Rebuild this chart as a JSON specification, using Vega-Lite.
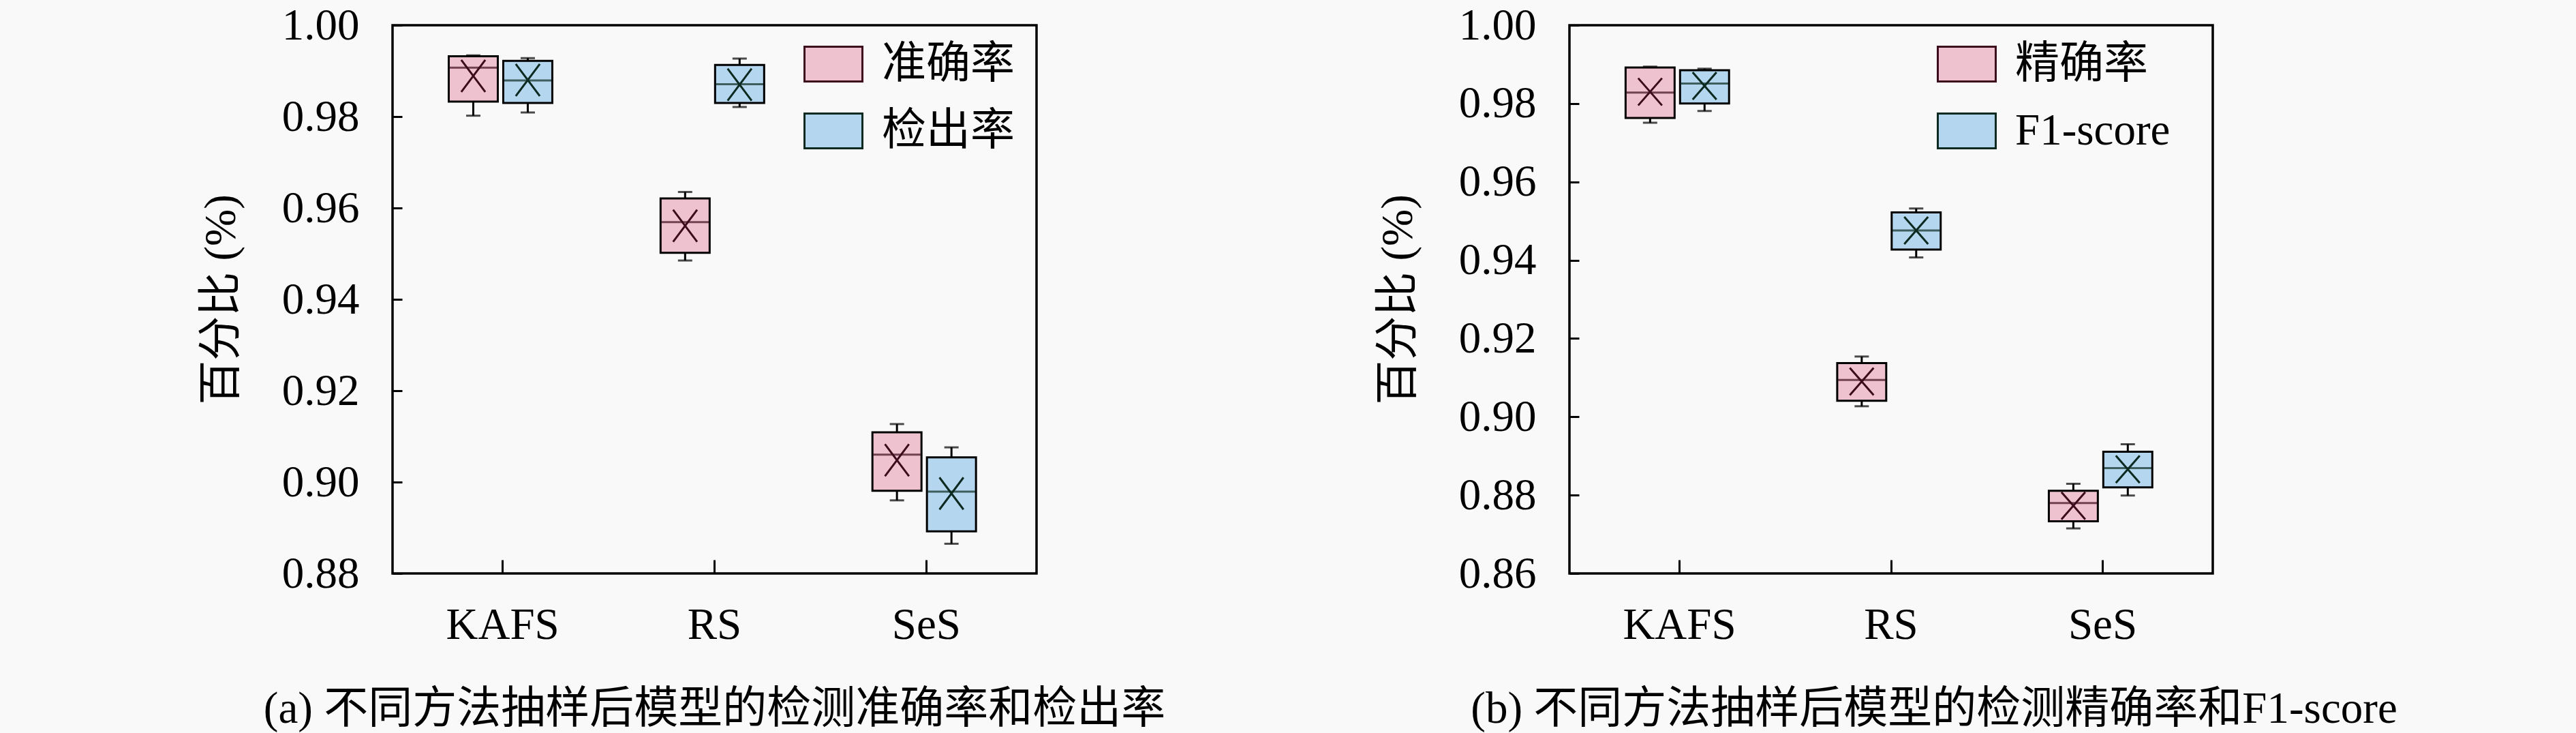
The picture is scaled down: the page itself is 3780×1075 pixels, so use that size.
{
  "$schema": "https://vega.github.io/schema/vega-lite/v6.json",
  "background": "#f9f9f9",
  "padding": {"left": 290, "top": 3, "right": 270, "bottom": 5},
  "bounds": "flush",
  "spacing": 782,
  "config": {
    "font": "Liberation Serif, Noto Sans CJK SC",
    "view": {"stroke": "black", "strokeWidth": 3.5, "fill": null},
    "axis": {"domain": false, "grid": false, "tickColor": "black", "tickWidth": 3, "labelColor": "black", "labelFontSize": 65, "titleFontSize": 65, "titleFontWeight": "normal", "titleColor": "black", "labelFlush": false, "labelOverlap": false, "labelBound": false},
    "axisY": {"tickSize": -14, "labelPadding": 63, "titlePadding": 55},
    "axisX": {"tickSize": -20, "labelPadding": 64, "labelAngle": 0, "labelBaseline": "top"},
    "legend": {"orient": "none", "title": null, "symbolType": "M-1,-0.6H1V0.6H-1Z", "symbolSize": 7225, "symbolStrokeColor": "black", "symbolStrokeWidth": 3, "symbolOpacity": 1, "labelFontSize": 65, "labelColor": "black", "labelOffset": 27, "labelLimit": 1000, "rowPadding": 21, "padding": 0},
    "title": {"fontSize": 65, "fontWeight": "normal", "orient": "bottom", "frame": "group", "anchor": "middle", "offset": 60, "color": "black", "baseline": "top"}
  },
  "resolve": {"scale": {"x": "independent", "y": "independent", "xOffset": "independent", "fill": "independent", "color": "independent"}, "legend": {"fill": "independent"}, "axis": {"x": "independent", "y": "independent"}},
  "hconcat": [
    {
      "width": 945,
      "height": 804,
      "title": {"text": "(a) 不同方法抽样后模型的检测准确率和检出率"},
      "data": {"values": [
        {"method": "KAFS", "metric": "准确率", "min": 0.9802, "q1": 0.9833, "median": 0.9907, "q3": 0.9932, "max": 0.9934, "mean": 0.9889},
        {"method": "KAFS", "metric": "检出率", "min": 0.9809, "q1": 0.9830, "median": 0.9879, "q3": 0.9922, "max": 0.9928, "mean": 0.9880},
        {"method": "RS", "metric": "准确率", "min": 0.9485, "q1": 0.9502, "median": 0.9569, "q3": 0.9621, "max": 0.9635, "mean": 0.9561},
        {"method": "RS", "metric": "检出率", "min": 0.9821, "q1": 0.9830, "median": 0.9871, "q3": 0.9913, "max": 0.9927, "mean": 0.9870},
        {"method": "SeS", "metric": "准确率", "min": 0.8960, "q1": 0.8981, "median": 0.9060, "q3": 0.9109, "max": 0.9127, "mean": 0.9048},
        {"method": "SeS", "metric": "检出率", "min": 0.8865, "q1": 0.8892, "median": 0.8979, "q3": 0.9054, "max": 0.9076, "mean": 0.8975}
      ]},
      "encoding": {
        "x": {"field": "method", "type": "nominal", "sort": ["KAFS", "RS", "SeS"], "scale": {"paddingInner": 0, "paddingOuter": 0.02}, "axis": {"title": null}},
        "xOffset": {"field": "metric", "type": "nominal", "sort": ["准确率", "检出率"], "scale": {"paddingInner": 0.1, "paddingOuter": 0.993, "align": 0.48}}
      },
      "layer": [
        {
          "mark": {"type": "rule", "color": "black", "strokeWidth": 3},
          "encoding": {
            "y": {"field": "min", "type": "quantitative", "scale": {"domain": [0.88, 1.0], "nice": false, "zero": false}, "axis": {"values": [0.88, 0.90, 0.92, 0.94, 0.96, 0.98, 1.00], "format": ".2f", "title": "百分比 (%)"}},
            "y2": {"field": "max"}
          }
        },
        {
          "mark": {"type": "bar", "stroke": "black", "strokeWidth": 3},
          "encoding": {
            "y": {"field": "q1", "type": "quantitative"},
            "y2": {"field": "q3"},
            "fill": {"field": "metric", "type": "nominal", "scale": {"domain": ["准确率", "检出率"], "range": ["#efc2cf", "#b5d6ef"]}, "legend": {"legendX": 603, "legendY": 13}}
          }
        },
        {
          "mark": {"type": "tick", "size": 70, "thickness": 3},
          "encoding": {
            "y": {"field": "median", "type": "quantitative"},
            "color": {"field": "metric", "type": "nominal", "scale": {"domain": ["准确率", "检出率"], "range": ["#3d0c1c", "#0c2a20"]}, "legend": null}
          }
        },
        {
          "mark": {"type": "tick", "size": 21, "thickness": 3, "color": "black"},
          "encoding": {"y": {"field": "min", "type": "quantitative"}}
        },
        {
          "mark": {"type": "tick", "size": 21, "thickness": 3, "color": "black"},
          "encoding": {"y": {"field": "max", "type": "quantitative"}}
        },
        {
          "mark": {"type": "point", "shape": "M-0.75,-1L0.75,1M0.75,-1L-0.75,1", "size": 2209, "filled": false, "strokeWidth": 3, "opacity": 1},
          "encoding": {
            "y": {"field": "mean", "type": "quantitative"},
            "color": {"field": "metric", "type": "nominal", "scale": {"domain": ["准确率", "检出率"], "range": ["#3d0c1c", "#0c2a20"]}, "legend": null}
          }
        }
      ]
    },
    {
      "width": 944,
      "height": 804,
      "title": {"text": "(b) 不同方法抽样后模型的检测精确率和F1-score", "dx": 63},
      "data": {"values": [
        {"method": "KAFS", "metric": "精确率", "min": 0.9751, "q1": 0.9763, "median": 0.9828, "q3": 0.9892, "max": 0.9894, "mean": 0.9830},
        {"method": "KAFS", "metric": "F1-score", "min": 0.9781, "q1": 0.9800, "median": 0.9851, "q3": 0.9885, "max": 0.9889, "mean": 0.9845},
        {"method": "RS", "metric": "精确率", "min": 0.9027, "q1": 0.9041, "median": 0.9094, "q3": 0.9137, "max": 0.9154, "mean": 0.9090},
        {"method": "RS", "metric": "F1-score", "min": 0.9407, "q1": 0.9427, "median": 0.9476, "q3": 0.9522, "max": 0.9532, "mean": 0.9476},
        {"method": "SeS", "metric": "精确率", "min": 0.8715, "q1": 0.8733, "median": 0.8780, "q3": 0.8811, "max": 0.8829, "mean": 0.8773},
        {"method": "SeS", "metric": "F1-score", "min": 0.8799, "q1": 0.8820, "median": 0.8869, "q3": 0.8911, "max": 0.8930, "mean": 0.8866}
      ]},
      "encoding": {
        "x": {"field": "method", "type": "nominal", "sort": ["KAFS", "RS", "SeS"], "scale": {"paddingInner": 0, "paddingOuter": 0.02}, "axis": {"title": null}},
        "xOffset": {"field": "metric", "type": "nominal", "sort": ["精确率", "F1-score"], "scale": {"paddingInner": 0.1, "paddingOuter": 0.993, "align": 0.48}}
      },
      "layer": [
        {
          "mark": {"type": "rule", "color": "black", "strokeWidth": 3},
          "encoding": {
            "y": {"field": "min", "type": "quantitative", "scale": {"domain": [0.86, 1.0], "nice": false, "zero": false}, "axis": {"values": [0.86, 0.88, 0.90, 0.92, 0.94, 0.96, 0.98, 1.00], "format": ".2f", "title": "百分比 (%)"}},
            "y2": {"field": "max"}
          }
        },
        {
          "mark": {"type": "bar", "stroke": "black", "strokeWidth": 3},
          "encoding": {
            "y": {"field": "q1", "type": "quantitative"},
            "y2": {"field": "q3"},
            "fill": {"field": "metric", "type": "nominal", "scale": {"domain": ["精确率", "F1-score"], "range": ["#efc2cf", "#b5d6ef"]}, "legend": {"legendX": 539, "legendY": 13}}
          }
        },
        {
          "mark": {"type": "tick", "size": 70, "thickness": 3},
          "encoding": {
            "y": {"field": "median", "type": "quantitative"},
            "color": {"field": "metric", "type": "nominal", "scale": {"domain": ["精确率", "F1-score"], "range": ["#3d0c1c", "#0c2a20"]}, "legend": null}
          }
        },
        {
          "mark": {"type": "tick", "size": 21, "thickness": 3, "color": "black"},
          "encoding": {"y": {"field": "min", "type": "quantitative"}}
        },
        {
          "mark": {"type": "tick", "size": 21, "thickness": 3, "color": "black"},
          "encoding": {"y": {"field": "max", "type": "quantitative"}}
        },
        {
          "mark": {"type": "point", "shape": "M-0.875,-1L0.875,1M0.875,-1L-0.875,1", "size": 1600, "filled": false, "strokeWidth": 3, "opacity": 1},
          "encoding": {
            "y": {"field": "mean", "type": "quantitative"},
            "color": {"field": "metric", "type": "nominal", "scale": {"domain": ["精确率", "F1-score"], "range": ["#3d0c1c", "#0c2a20"]}, "legend": null}
          }
        }
      ]
    }
  ]
}
